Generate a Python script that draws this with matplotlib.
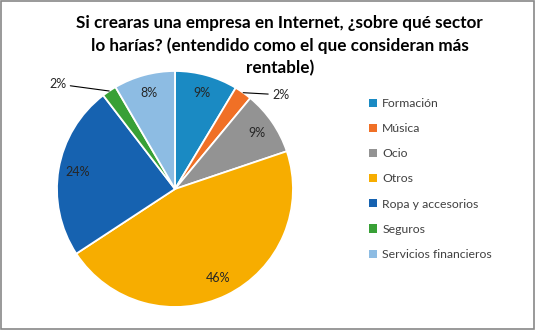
import matplotlib
matplotlib.use("Agg")
import matplotlib.pyplot as plt
import numpy as np
from matplotlib.patches import Rectangle

categories = ["Formación", "Música", "Ocio", "Otros", "Ropa y accesorios",
              "Seguros", "Servicios financieros"]
values = [8.6, 2.4, 8.8, 45.9, 23.8, 2.0, 8.4]
labels_pct = ["9%", "2%", "9%", "46%", "24%", "2%", "8%"]
colors = ["#1A8AC3", "#F07026", "#939393", "#F7AD00", "#1662B0", "#38A036", "#8DBCE3"]
title = "Si crearas una empresa en Internet, ¿sobre qué sector\nlo harías? (entendido como el que consideran más\nrentable)"

plt.rcParams['font.family'] = ['Lato', 'DejaVu Sans']

fig = plt.figure(figsize=(5.36, 3.30), dpi=100)
fig.patch.set_facecolor("white")
fig.add_artist(Rectangle((0.001, 0.002), 0.996, 0.996, transform=fig.transFigure,
                         fill=False, edgecolor="#888888", linewidth=1.2))

ax = fig.add_axes([0.1063, 0.0697, 0.4403, 0.7152])
wedges, _ = ax.pie(values, colors=colors, startangle=90, counterclock=False,
                   wedgeprops=dict(edgecolor="white", linewidth=1.3))
ax.set_xlim(-1, 1)
ax.set_ylim(-1, 1)
ax.set_aspect("auto")
ax.axis("off")

small_offsets = {1: (21, -1.5), 5: (-31, 5)}
for i, (w, lab) in enumerate(zip(wedges, labels_pct)):
    mid = np.deg2rad((w.theta1 + w.theta2) / 2)
    if i in small_offsets:
        x, y = np.cos(mid), np.sin(mid)
        dx, dy = small_offsets[i]
        ha = "left" if dx > 0 else "right"
        ax.annotate(lab, xy=(x, y), xytext=(dx, dy), textcoords="offset points",
                    ha=ha, va="center", fontsize=9, color="#262626",
                    arrowprops=dict(arrowstyle="-", color="black", lw=0.8,
                                    shrinkA=1, shrinkB=0))
    else:
        r = 0.84
        ax.text(r * np.cos(mid), r * np.sin(mid), lab, ha="center", va="center",
                fontsize=9, color="#262626")

fig.text(0.522, 0.955, title, ha="center", va="top", fontsize=12.3,
         fontweight="bold", color="black", linespacing=1.46)

handles = [Rectangle((0, 0), 1, 1, facecolor=c) for c in colors]
fig.legend(handles, categories, loc="upper left", bbox_to_anchor=(0.68, 0.718),
           frameon=False, fontsize=8.8, labelcolor="#404040",
           handlelength=0.65, handleheight=0.65, handletextpad=0.4,
           labelspacing=1.16, borderaxespad=0)

fig.savefig("out.png", dpi=100)
